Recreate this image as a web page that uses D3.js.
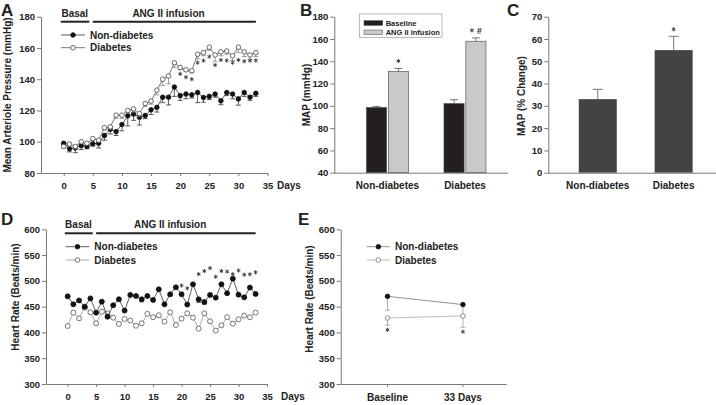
<!DOCTYPE html>
<html><head><meta charset="utf-8">
<script src="https://cdn.jsdelivr.net/npm/d3@7"></script>
<style>
body{margin:0;background:#fff}
text{font-family:"Liberation Sans",Arial,Helvetica,sans-serif;font-weight:bold;fill:#222}
</style>
</head><body>
<svg id="c" width="716" height="405" xmlns="http://www.w3.org/2000/svg"></svg>
<script>
// ---------------- DATA ----------------
const days = [0,1,2,3,4,5,6,7,8,9,10,11,12,13,14,15,16,17,18,19,20,21,22,23,24,25,26,27,28,29,30,31,32,33];
const dayTicks = [0,5,10,15,20,25,30,35];
const periods = [{label:"Basal", start:-0.5, end:4.4, mid:1.9},{label:"ANG II infusion", start:5, end:33, mid:18}];
const seriesNames = ["Non-diabetes","Diabetes"];

// Panel A: mean arteriole pressure (mmHg)
const mapTicks = [80,100,120,140,160,180];
const mapNonDiabetes = [99,95.5,96,97.5,97,98.7,99,104,108,106.5,111,116.6,117.7,115.7,116.8,120.4,122,128.5,128.5,135,129.5,130.5,130,131.5,128.3,129,130.5,126.2,131.5,130.5,127.4,131.5,128.5,131];
const mapNonDiabetesErr = [1,2,3,2.5,1.5,1.5,3,3,3,2.5,4,6.5,4,5,2,3,3,3.5,5,6,3,3,2,6.5,3,2,2,2.5,2,3,4,2.5,2,2];
const mapDiabetes = [97,98.5,97,100,99,102,101,109,109.5,117,117,120,121,118,124.5,126,133,140,142,150.5,147.5,146,145.5,156,157,160.5,155.5,157.5,158,155,160.5,157.5,155.5,157];
const mapDiabetesErr = [1,1,1.5,1,1,1,1,1.5,1.5,2,2,1.5,2,2,2,2,3,4,5,3,1.5,1,1.5,3,2,2,4,2.5,2,3,3.5,3,3,2.5];
const mapStarDays = [20,21,22,23,24,25,26,27,28,29,30,31,32,33];
const mapStarVals = [143.4,141.3,140,150.6,151.9,154.5,149.1,152.3,152,150.6,152.3,151.5,151.9,152];

// Panel B: MAP baseline vs ANG II
const groups = ["Non-diabetes","Diabetes"];
const bTicks = [40,60,80,100,120,140,160,180];
const bSeries = ["Baseline","ANG II infusion"];
const mapBaseline = [98.5,102];
const mapBaselineErr = [1,3.5];
const mapAng = [131,158];
const mapAngErr = [2.5,3];
const mapAngStar = [true,true];
const mapAngHash = [false,true];

// Panel C: MAP % change
const cTicks = [0,10,20,30,40,50,60,70];
const pctChange = [33,55];
const pctChangeErr = [4.4,6.2];
const pctStar = [false,true];

// Panel D: heart rate (beats/min)
const hrTicks = [300,350,400,450,500,550,600];
const hrNonDiabetes = [470,454.5,462,450,466,438.4,459.7,430.6,452.6,464.3,442.3,472.7,470.7,464.3,470.7,463,483.6,454.5,474,487.5,474,454,493.3,464.3,459,472.7,467.5,493.3,476,504.3,473.3,468,486.9,474.6];
const hrNonDiabetesErr = [0,0,0,3,0,0,0,0,0,0,0,0,0,5,0,0,0,0,3,0,0,0,0,6,4,0,0,0,0,0,0,0,0,0];
const hrDiabetes = [412.5,438.4,427.4,448,439,417.7,440.3,437,428.7,416.4,426,423,413,417.7,436,429.4,433.2,421,439,414.5,426.8,437,428.7,407.4,437,421.6,403.5,413.8,429.4,417,425.5,432.6,429.4,438.4];
const hrStarDays = [20,21,23,24,25,26,27,28,29,30,31,32,33];
const hrStarVals = [491,485.6,513,519,524.7,508,519,518,513,520,512,512.7,516.6];

// Panel E: heart rate summary
const times = ["Baseline","33 Days"];
const hrSumNon = [470,454];
const hrSumNonErr = [27,20];
const hrSumDia = [428,432];
const hrSumDiaErr = [14,22];
const hrSumStarVals = [405,401.5];

// ---------------- DRAWING ----------------
const svg = d3.select("#c");
const AX = "#777";

function styleAxis(g, fs){
  g.attr("font-family", null).attr("font-size", null);
  g.select(".domain").attr("stroke", AX);
  g.selectAll(".tick line").attr("stroke", AX);
  g.selectAll(".tick text").attr("font-size", fs||9.5).attr("fill","#222");
}
function yAxis(scale, ticks, x){
  const g = svg.append("g").attr("transform",`translate(${x},0)`)
    .call(d3.axisLeft(scale).tickValues(ticks).tickSize(4).tickPadding(2).tickSizeOuter(0));
  styleAxis(g);
  return g;
}
function xAxisLinear(scale, ticks, y, fs){
  const g = svg.append("g").attr("transform",`translate(0,${y})`)
    .call(d3.axisBottom(scale).tickValues(ticks).tickSize(3).tickPadding(6).tickSizeOuter(0));
  styleAxis(g, fs);
  return g;
}
function label(x,y,t,fs,anchor){
  return svg.append("text").attr("x",x).attr("y",y).attr("font-size",fs).attr("text-anchor",anchor||"start").text(t);
}
function vlabel(x,y,t,fs){
  svg.append("text").attr("transform",`translate(${x},${y}) rotate(-90)`).attr("text-anchor","middle").attr("font-size",fs).text(t);
}
// asterisk drawn as a small path (centre cx, cy)
function asterisk(cx, cy, r){
  r = r || 2.1;
  let d = "";
  [90, 30, 150].forEach(a=>{
    const t = a*Math.PI/180, dx = Math.cos(t)*r, dy = Math.sin(t)*r;
    d += `M${cx-dx},${cy-dy}L${cx+dx},${cy+dy}`;
  });
  svg.append("path").attr("d",d).attr("stroke","#333").attr("stroke-width",0.9).attr("fill","none");
}
function errDown(g, px, yv, ylo, color, half){
  g.append("line").attr("x1",px).attr("x2",px).attr("y1",yv).attr("y2",ylo).attr("stroke",color).attr("stroke-width",0.8);
  g.append("line").attr("x1",px-half).attr("x2",px+half).attr("y1",ylo).attr("y2",ylo).attr("stroke",color).attr("stroke-width",0.8);
}
function drawSeries(x, y, xs, vals, errs, opt){
  const g = svg.append("g");
  g.append("path").datum(xs.map((d,i)=>[d,vals[i]]))
    .attr("d", d3.line().x(d=>x(d[0])).y(d=>y(d[1])))
    .attr("fill","none").attr("stroke",opt.line).attr("stroke-width",0.8);
  if(errs) xs.forEach((d,i)=>{ if(errs[i]>0) errDown(g, x(d), y(vals[i]), y(vals[i]-errs[i]), opt.err, 2.5); });
  g.selectAll("circle").data(xs.map((d,i)=>[d,vals[i]])).join("circle")
    .attr("cx",d=>x(d[0])).attr("cy",d=>y(d[1])).attr("r",opt.r||2.3)
    .attr("fill",opt.fill).attr("stroke",opt.stroke).attr("stroke-width",0.8);
}
function stars(xv, yv, x, y){
  xv.forEach((d,i)=> asterisk(x(d), y(yv[i])));
}
function periodBars(x, yLine, yText){
  periods.forEach(p=>{
    svg.append("line").attr("x1",x(p.start)).attr("x2",x(p.end)).attr("y1",yLine).attr("y2",yLine)
      .attr("stroke","#222").attr("stroke-width",2);
    label(x(p.mid), yText, p.label, 10, "middle");
  });
}
function legend(x0, x1, y0, dy, styles){
  seriesNames.forEach((n,i)=>{
    const yy = y0 + i*dy, s = styles[i];
    svg.append("line").attr("x1",x0).attr("x2",x1).attr("y1",yy).attr("y2",yy).attr("stroke",s.line).attr("stroke-width",0.8);
    svg.append("circle").attr("cx",(x0+x1)/2).attr("cy",yy).attr("r",2.3).attr("fill",s.fill).attr("stroke",s.stroke).attr("stroke-width",0.8);
    label(x1+5, yy+3.5, n, 10);
  });
}

// ===== Panel A =====
{
  const x = d3.scaleLinear().domain([-3.9,35]).range([41,267.5]);
  const y = d3.scaleLinear().domain([80,180]).range([173,16.7]);
  yAxis(y, mapTicks, 41);
  xAxisLinear(x, dayTicks, 173);
  label(277,189,"Days",10);
  label(1,16,"A",17);
  vlabel(11,95,"Mean Arteriole Pressure (mmHg)",10);
  periodBars(x, 21.7, 17);
  const nd = {line:"#333", err:"#333", fill:"#111", stroke:"#111"};
  const di = {line:"#555", err:"#888", fill:"#fff", stroke:"#444"};
  drawSeries(x, y, days, mapNonDiabetes, mapNonDiabetesErr, nd);
  drawSeries(x, y, days, mapDiabetes, mapDiabetesErr, di);
  stars(mapStarDays, mapStarVals, x, y);
  legend(61, 85, 35, 12.7, [nd, di]);
}

// ===== Panel B =====
{
  const x = d3.scaleLinear().domain([-0.686,1.555]).range([334.3,508]);
  const sub = d3.scaleBand().domain(bSeries).range([-21,21]).paddingInner(0.08);
  const y = d3.scaleLinear().domain([40,180]).range([172.7,16.7]);
  const cols = {"Baseline":"#231f20","ANG II infusion":"#c9c9c9"};
  const vals = [mapBaseline, mapAng], errs = [mapBaselineErr, mapAngErr];
  const g = svg.append("g");
  groups.forEach((grp,gi)=>{
    bSeries.forEach((s,si)=>{
      const bx = x(gi)+sub(s), v = vals[si][gi], e = errs[si][gi];
      const cx = bx + sub.bandwidth()/2;
      g.append("line").attr("x1",cx).attr("x2",cx).attr("y1",y(v)).attr("y2",y(v+e)).attr("stroke","#555").attr("stroke-width",0.8);
      g.append("line").attr("x1",cx-4).attr("x2",cx+4).attr("y1",y(v+e)).attr("y2",y(v+e)).attr("stroke","#555").attr("stroke-width",0.8);
      g.append("rect").attr("x",bx).attr("y",y(v)).attr("width",sub.bandwidth()).attr("height",y(40)-y(v))
        .attr("fill",cols[s]).attr("stroke","#444").attr("stroke-width",0.6);
      if(si===1){
        const cy = y(v+e)-7.5;
        if(mapAngHash[gi]){
          asterisk(cx-4, cy);
          label(cx+3.5, cy+3.3, "#", 8.5, "middle").attr("font-weight","normal");
        } else if(mapAngStar[gi]) asterisk(cx, cy);
      }
    });
    label(x(gi), 189, grp, 10, "middle");
  });
  yAxis(y, bTicks, 334.3);
  svg.append("line").attr("x1",334.3).attr("x2",508).attr("y1",y(40)+0.5).attr("y2",y(40)+0.5).attr("stroke",AX);
  label(300,16,"B",17);
  vlabel(309.5,95,"MAP (mmHg)",10);
  // legend
  svg.append("rect").attr("x",359.3).attr("y",14).attr("width",82.7).attr("height",23.3).attr("fill","#fff").attr("stroke","#999").attr("stroke-width",0.7);
  bSeries.forEach((s,i)=>{
    const yy = 20.7 + i*9.3;
    svg.append("rect").attr("x",364).attr("y",yy).attr("width",18.7).attr("height",4.7).attr("fill",cols[s]).attr("stroke","#444").attr("stroke-width",0.5);
    label(385.7, yy+5.2, s, 7.5);
  });
}

// ===== Panel C =====
{
  const x = d3.scaleLinear().domain([-0.652,1.558]).range([548.3,716]);
  const y = d3.scaleLinear().domain([0,70]).range([172.7,16.7]);
  const bw = 38;
  groups.forEach((grp,gi)=>{
    const cx = x(gi), v = pctChange[gi], e = pctChangeErr[gi];
    svg.append("line").attr("x1",cx).attr("x2",cx).attr("y1",y(v)).attr("y2",y(v+e)).attr("stroke","#555").attr("stroke-width",0.8);
    svg.append("line").attr("x1",cx-5).attr("x2",cx+5).attr("y1",y(v+e)).attr("y2",y(v+e)).attr("stroke","#555").attr("stroke-width",0.8);
    svg.append("rect").attr("x",cx-bw/2).attr("y",y(v)).attr("width",bw).attr("height",y(0)-y(v)).attr("fill","#434343");
    if(pctStar[gi]) asterisk(cx, y(v+e)-7);
    label(cx, 189, grp, 10, "middle");
  });
  yAxis(y, cTicks, 548.3);
  svg.append("line").attr("x1",548.3).attr("x2",716).attr("y1",y(0)+0.5).attr("y2",y(0)+0.5).attr("stroke",AX);
  label(507,16,"C",17);
  vlabel(524.5,96,"MAP (% Change)",10);
}

// ===== Panel D =====
{
  const x = d3.scaleLinear().domain([-3.8,35]).range([46,267]);
  const y = d3.scaleLinear().domain([300,600]).range([384,229.3]);
  yAxis(y, hrTicks, 46);
  xAxisLinear(x, dayTicks, 384);
  label(281,400,"Days",10);
  label(1,225,"D",17);
  vlabel(18.5,297,"Heart Rate (Beats/min)",10);
  periodBars(x, 233.3, 228);
  const nd = {line:"#333", err:"#333", fill:"#111", stroke:"#111", r:2.5};
  const di = {line:"#999", err:"#999", fill:"#fff", stroke:"#555", r:2.5};
  drawSeries(x, y, days, hrDiabetes, null, di);
  drawSeries(x, y, days, hrNonDiabetes, hrNonDiabetesErr, nd);
  stars(hrStarDays, hrStarVals, x, y);
  legend(65.7, 89.3, 246.7, 13.3, [nd, di]);
}

// ===== Panel E =====
{
  const x = d3.scaleLinear().domain([-0.62,1.58]).range([340.7,506.7]);
  const y = d3.scaleLinear().domain([300,600]).range([384,229.3]);
  yAxis(y, hrTicks, 340.7);
  svg.append("line").attr("x1",340.7).attr("x2",506.7).attr("y1",384.5).attr("y2",384.5).attr("stroke",AX);
  times.forEach((t,i)=>{
    svg.append("line").attr("x1",x(i)).attr("x2",x(i)).attr("y1",384).attr("y2",387).attr("stroke",AX);
    label(x(i), 401, t, 10, "middle");
  });
  label(298,225,"E",17);
  vlabel(313,299,"Heart Rate (Beats/min)",10);
  const idx = [0,1];
  const nd = {line:"#777", err:"#999", fill:"#111", stroke:"#111", r:2.3};
  const di = {line:"#aaa", err:"#999", fill:"#fff", stroke:"#777", r:2.3};
  drawSeries(x, y, idx, hrSumNon, hrSumNonErr, nd);
  drawSeries(x, y, idx, hrSumDia, hrSumDiaErr, di);
  stars(idx, hrSumStarVals, x, y);
  legend(366.7, 390, 246.7, 13.3, [nd, di]);
}
</script>
</body></html>
